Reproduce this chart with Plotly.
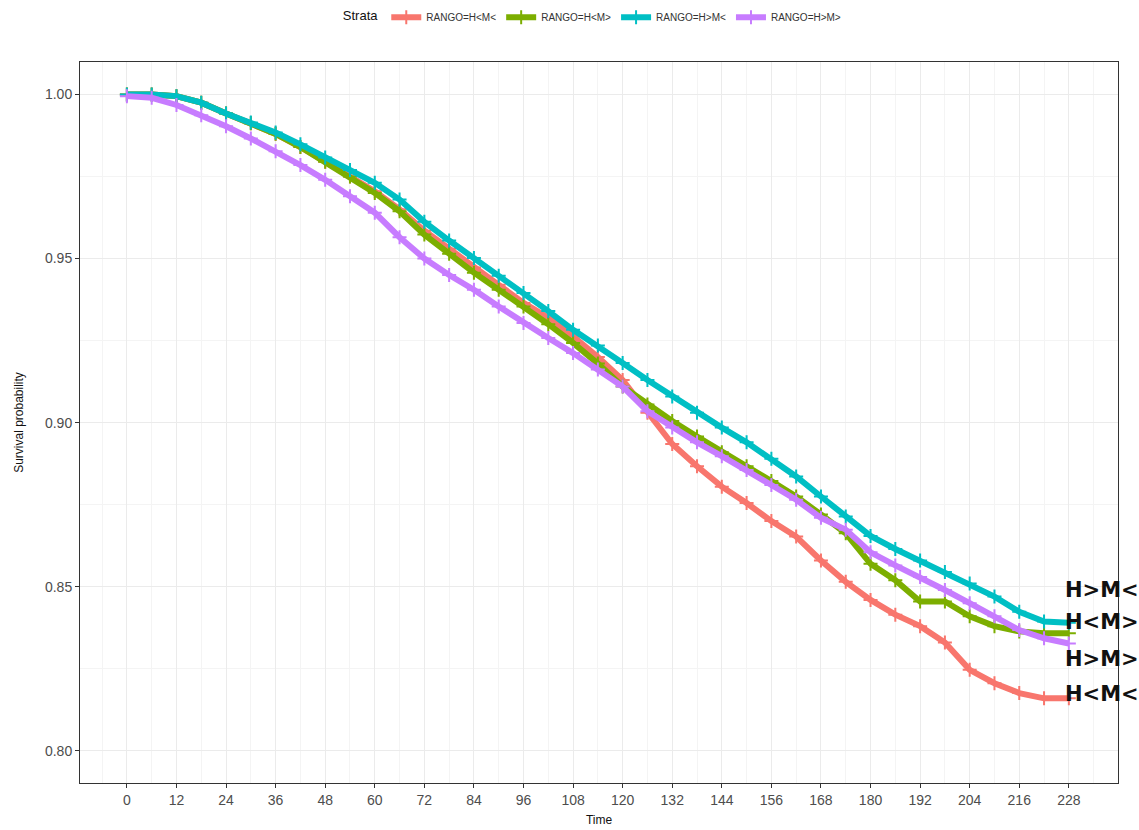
import plotly.graph_objects as go

# ---- data ----
time = [0, 6, 12, 18, 24, 30, 36, 42, 48, 54, 60, 66, 72, 78, 84, 90, 96, 102, 108, 114,
        120, 126, 132, 138, 144, 150, 156, 162, 168, 174, 180, 186, 192, 198, 204, 210,
        216, 222, 228]

surv_hlml = [1.000, 1.000, 0.9995, 0.9975, 0.9942, 0.9912, 0.9880, 0.9840, 0.9795, 0.9750,
             0.9705, 0.9650, 0.9585, 0.9530, 0.9473, 0.9420, 0.9365, 0.9320, 0.9263, 0.9200,
             0.9130, 0.9030, 0.8935, 0.8867, 0.8805, 0.8755, 0.8700, 0.8653, 0.8580, 0.8515,
             0.8460, 0.8415, 0.8380, 0.8330, 0.8247, 0.8206, 0.8176, 0.8160, 0.8160]

surv_hlmg = [1.000, 1.000, 0.9995, 0.9975, 0.9942, 0.9912, 0.9880, 0.9840, 0.9795, 0.9750,
             0.9700, 0.9644, 0.9573, 0.9515, 0.9457, 0.9405, 0.9354, 0.9300, 0.9243, 0.9180,
             0.9110, 0.9055, 0.9005, 0.8958, 0.8910, 0.8867, 0.8822, 0.8775, 0.8720, 0.8663,
             0.8570, 0.8520, 0.8455, 0.8455, 0.8410, 0.8380, 0.8364, 0.8358, 0.8358]

surv_hgml = [1.000, 1.000, 0.9995, 0.9975, 0.9942, 0.9915, 0.9884, 0.9848, 0.9808, 0.9770,
             0.9731, 0.9680, 0.9612, 0.9555, 0.9502, 0.9448, 0.9395, 0.9340, 0.9283, 0.9235,
             0.9182, 0.9130, 0.9080, 0.9030, 0.8985, 0.8940, 0.8890, 0.8836, 0.8775, 0.8714,
             0.8655, 0.8615, 0.8580, 0.8545, 0.8510, 0.8470, 0.8424, 0.8394, 0.8390]

surv_hgmg = [0.9995, 0.9990, 0.9968, 0.9937, 0.9903, 0.9866, 0.9827, 0.9785, 0.9740, 0.9690,
             0.9640, 0.9565, 0.9500, 0.9450, 0.9405, 0.9354, 0.9304, 0.9258, 0.9212, 0.9162,
             0.9110, 0.9035, 0.8985, 0.8940, 0.8898, 0.8856, 0.8810, 0.8765, 0.8710, 0.8674,
             0.8605, 0.8565, 0.8530, 0.8490, 0.8450, 0.8410, 0.8368, 0.8343, 0.8327]

strata = ["RANGO=H<M<", "RANGO=H<M>", "RANGO=H>M<", "RANGO=H>M>"]
colors = ["#F8766D", "#7CAE00", "#00BFC4", "#C77CFF"]
series = [surv_hlml, surv_hlmg, surv_hgml, surv_hgmg]

end_labels = ["H>M<", "H<M>", "H>M>", "H<M<"]
end_label_y = [0.8490, 0.8394, 0.8280, 0.8173]

x_ticks = list(range(0, 229, 12))
y_ticks = [0.80, 0.85, 0.90, 0.95, 1.00]

FONT = "Liberation Sans, Arial, sans-serif"

fig = go.Figure()
for name, col, vals in zip(strata, colors, series):
    fig.add_trace(go.Scatter(
        x=time, y=vals, name=name, mode="lines+markers",
        line=dict(color=col, width=6),
        marker=dict(symbol="cross-thin-open", size=10, color=col,
                    line=dict(color=col, width=2)),
    ))

def esc(s):
    return s.replace("<", "&lt;").replace(">", "&gt;")

for lab, yv in zip(end_labels, end_label_y):
    fig.add_annotation(x=226.6, y=yv, xref="x", yref="y", text="<b>" + esc(lab) + "</b>",
                       showarrow=False, xanchor="left", yanchor="middle",
                       font=dict(family="DejaVu Sans", size=21, color="#111111"))

fig.update_layout(
    width=1139, height=830,
    margin=dict(l=80, r=21, t=62, b=47, autoexpand=False),
    paper_bgcolor="white", plot_bgcolor="white",
    font=dict(family=FONT, color="#333333"),
    showlegend=True,
    legend=dict(orientation="h", x=0.495, xanchor="center", y=1.062, yanchor="middle",
                font=dict(size=10, color="#333333"),
                title=dict(text="Strata", side="left", font=dict(size=13, color="#111111")),
                itemwidth=30, tracegroupgap=0, bgcolor="rgba(0,0,0,0)"),
    xaxis=dict(range=[-11.35, 239.9], tickmode="array", tickvals=x_ticks,
               ticks="outside", ticklen=4, tickcolor="#333333",
               tickfont=dict(size=14, color="#4D4D4D"),
               showgrid=True, gridcolor="#EBEBEB", gridwidth=1,
               minor=dict(tick0=6, dtick=12, showgrid=True, gridcolor="#F4F4F4", gridwidth=1, ticks=""),
               showline=True, linecolor="#333333", linewidth=1, mirror=True,
               zeroline=False,
               title=dict(text="Time", font=dict(size=12, color="#111111"), standoff=8)),
    yaxis=dict(range=[0.7902, 1.0099], tickmode="array", tickvals=y_ticks,
               ticktext=["0.80", "0.85", "0.90", "0.95", "1.00"],
               ticks="outside", ticklen=4, tickcolor="#333333",
               tickfont=dict(size=14, color="#4D4D4D"),
               showgrid=True, gridcolor="#EBEBEB", gridwidth=1,
               minor=dict(tick0=0.825, dtick=0.05, showgrid=True, gridcolor="#F4F4F4", gridwidth=1, ticks=""),
               showline=True, linecolor="#333333", linewidth=1, mirror=True,
               zeroline=False,
               title=dict(text="Survival probability", font=dict(size=12, color="#111111"), standoff=18)),
)

fig.write_html("out.html")
